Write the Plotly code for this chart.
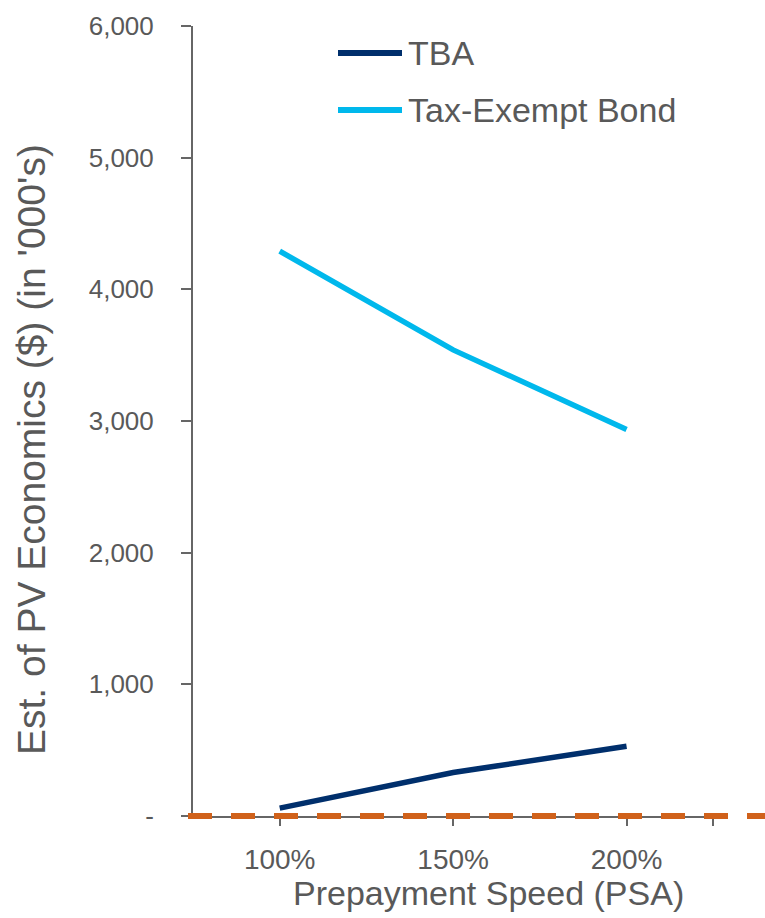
import plotly.graph_objects as go

# Prepayment speed scenarios (PSA) and estimated PV economics, in $ thousands
psa = [100, 150, 200]
psa_labels = ["100%", "150%", "200%"]
tba = [60, 330, 530]
tax_exempt = [4290, 3540, 2935]
series_names = ["TBA", "Tax-Exempt Bond"]
series_colors = ["#002F6C", "#00B8EC"]

y_tickvals = [0, 1000, 2000, 3000, 4000, 5000, 6000]
y_ticktext = ["-", "1,000", "2,000", "3,000", "4,000", "5,000", "6,000"]

x_title = "Prepayment Speed (PSA)"
y_title = "Est. of PV Economics ($) (in '000's)"

GRAY = "#595959"
AXIS = "#666666"
FONT = "Liberation Sans, Arial, sans-serif"

# plot-area geometry in pixels
W, H = 765, 918
L, R, T, B = 193, 42, 26, 102
PW, PH = W - L - R, H - T - B


def px_x(px):
    return (px - L) / PW


def px_y(py):
    return (H - B - py) / PH


fig = go.Figure()
for name, vals, color in zip(series_names, [tba, tax_exempt], series_colors):
    fig.add_trace(go.Scatter(
        x=psa, y=vals, name=name, mode="lines",
        line=dict(color=color, width=5.5),
        showlegend=False,
    ))

# break-even reference line at zero
fig.add_shape(
    type="line", xref="paper", yref="paper",
    x0=px_x(188), x1=px_x(770), y0=0, y1=0,
    line=dict(color="#D0611A", width=6, dash="24px,19px"),
    layer="above",
)

# legend drawn as line samples plus labels
legend_rows = [53, 110]
for name, color, py in zip(series_names, series_colors, legend_rows):
    fig.add_shape(
        type="line", xref="paper", yref="paper",
        x0=px_x(338), x1=px_x(402), y0=px_y(py), y1=px_y(py),
        line=dict(color=color, width=6),
    )
    fig.add_annotation(
        xref="paper", yref="paper", x=px_x(406), y=px_y(py),
        xanchor="left", yanchor="middle", showarrow=False,
        text=name, font=dict(family=FONT, size=34, color=GRAY),
    )

# axis titles
fig.add_annotation(
    xref="paper", yref="paper", x=px_x(488), y=px_y(893),
    xanchor="center", yanchor="middle", showarrow=False,
    text=x_title, font=dict(family=FONT, size=34, color=GRAY),
)
fig.add_annotation(
    xref="paper", yref="paper", x=px_x(31), y=px_y(450),
    xanchor="center", yanchor="middle", showarrow=False, textangle=-90,
    text=y_title, font=dict(family=FONT, size=39, color=GRAY),
)

fig.update_layout(
    width=W, height=H,
    margin=dict(l=L, r=R, t=T, b=B, pad=0),
    paper_bgcolor="white", plot_bgcolor="white",
    font=dict(family=FONT, color=GRAY),
    xaxis=dict(
        range=[75, 227.8],
        tickvals=psa + [225], ticktext=psa_labels + [""],
        showgrid=False, zeroline=False,
        showline=True, linecolor=AXIS, linewidth=2,
        ticks="outside", ticklen=8, tickwidth=2, tickcolor=AXIS,
        tickfont=dict(size=28, color=GRAY),
        ticklabelstandoff=9,
    ),
    yaxis=dict(
        range=[0, 6000],
        tickvals=y_tickvals, ticktext=y_ticktext,
        showgrid=False, zeroline=False,
        showline=True, linecolor=AXIS, linewidth=2,
        ticks="outside", ticklen=10, tickwidth=2, tickcolor=AXIS,
        tickfont=dict(size=26, color=GRAY),
        ticklabelstandoff=22,
    ),
)

fig.write_html("out.html")
